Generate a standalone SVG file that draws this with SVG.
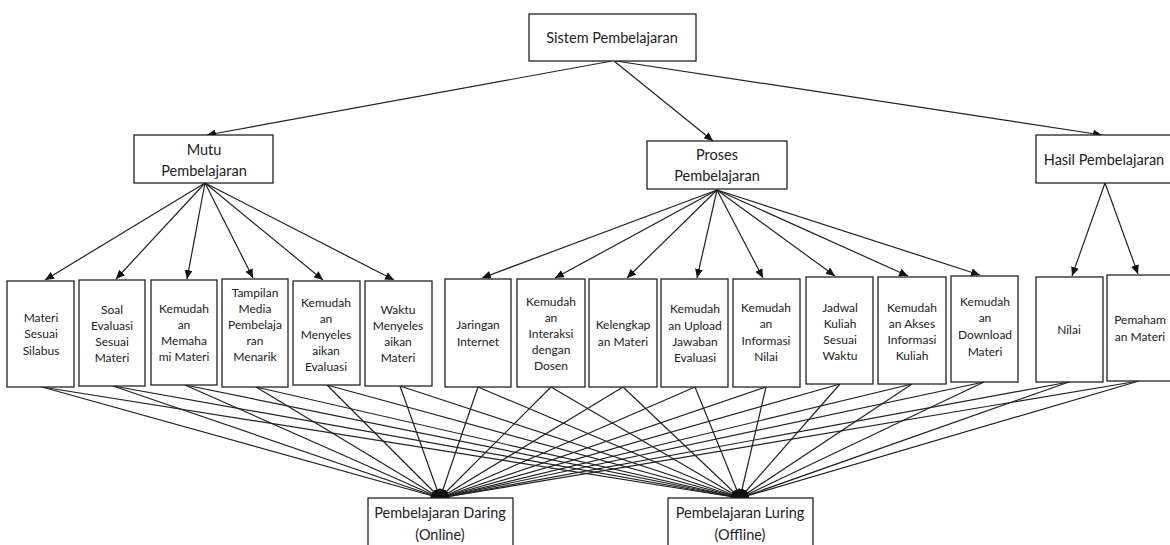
<svg xmlns="http://www.w3.org/2000/svg" width="1170" height="545" viewBox="0 0 1170 545">
<style>
.b{fill:#fff;stroke:#222;stroke-width:1.3}
.t{font-family:"Lato","Carlito","Liberation Sans",sans-serif;font-size:12px;fill:#222;text-anchor:middle}
.h{font-family:"Lato","Carlito","Liberation Sans",sans-serif;font-size:14.5px;fill:#222;text-anchor:middle}
.c line{stroke:#222;stroke-width:1.2}
.a{marker-end:url(#ar)}
</style>
<defs>
<marker id="ar" markerUnits="userSpaceOnUse" markerWidth="9" markerHeight="8" refX="9" refY="4" orient="auto"><path d="M0,0 L9,4 L0,8 z" fill="#111"/></marker>
</defs>
<rect width="1170" height="545" fill="#fff"/>
<g class="c">
<line class="a" x1="612" y1="61" x2="207" y2="135"/>
<line class="a" x1="614" y1="61" x2="713" y2="141"/>
<line class="a" x1="616" y1="61" x2="1102" y2="135"/>
<line class="a" x1="205" y1="183" x2="45" y2="280"/>
<line class="a" x1="205" y1="183" x2="116" y2="279"/>
<line class="a" x1="205" y1="183" x2="187" y2="279"/>
<line class="a" x1="205" y1="183" x2="253" y2="278"/>
<line class="a" x1="205" y1="183" x2="323" y2="280"/>
<line class="a" x1="205" y1="183" x2="394" y2="280"/>
<line class="a" x1="717" y1="190" x2="482" y2="278"/>
<line class="a" x1="717" y1="190" x2="555" y2="278"/>
<line class="a" x1="717" y1="190" x2="627" y2="278"/>
<line class="a" x1="717" y1="190" x2="697" y2="278"/>
<line class="a" x1="717" y1="190" x2="763" y2="278"/>
<line class="a" x1="717" y1="190" x2="835" y2="276"/>
<line class="a" x1="717" y1="190" x2="908" y2="276"/>
<line class="a" x1="717" y1="190" x2="980" y2="275"/>
<line class="a" x1="1105" y1="183" x2="1072" y2="276"/>
<line class="a" x1="1105" y1="183" x2="1138" y2="274"/>
<line class="a" x1="42" y1="387" x2="440" y2="498"/><line class="a" x1="42" y1="387" x2="740" y2="498"/>
<line class="a" x1="113" y1="386" x2="440" y2="498"/><line class="a" x1="113" y1="386" x2="740" y2="498"/>
<line class="a" x1="185" y1="385" x2="440" y2="498"/><line class="a" x1="185" y1="385" x2="740" y2="498"/>
<line class="a" x1="256" y1="387" x2="440" y2="498"/><line class="a" x1="256" y1="387" x2="740" y2="498"/>
<line class="a" x1="327" y1="385" x2="440" y2="498"/><line class="a" x1="327" y1="385" x2="740" y2="498"/>
<line class="a" x1="400" y1="386" x2="440" y2="498"/><line class="a" x1="400" y1="386" x2="740" y2="498"/>
<line class="a" x1="478" y1="387" x2="440" y2="498"/><line class="a" x1="478" y1="387" x2="740" y2="498"/>
<line class="a" x1="551" y1="387" x2="440" y2="498"/><line class="a" x1="551" y1="387" x2="740" y2="498"/>
<line class="a" x1="623" y1="387" x2="440" y2="498"/><line class="a" x1="623" y1="387" x2="740" y2="498"/>
<line class="a" x1="695" y1="387" x2="440" y2="498"/><line class="a" x1="695" y1="387" x2="740" y2="498"/>
<line class="a" x1="766" y1="387" x2="440" y2="498"/><line class="a" x1="766" y1="387" x2="740" y2="498"/>
<line class="a" x1="840" y1="384" x2="440" y2="498"/><line class="a" x1="840" y1="384" x2="740" y2="498"/>
<line class="a" x1="912" y1="384" x2="440" y2="498"/><line class="a" x1="912" y1="384" x2="740" y2="498"/>
<line class="a" x1="984" y1="382" x2="440" y2="498"/><line class="a" x1="984" y1="382" x2="740" y2="498"/>
<line class="a" x1="1069" y1="382" x2="440" y2="498"/><line class="a" x1="1069" y1="382" x2="740" y2="498"/>
<line class="a" x1="1139" y1="381" x2="440" y2="498"/><line class="a" x1="1139" y1="381" x2="740" y2="498"/>
</g>
<g id="n-sistem"><rect class="b" x="529" y="14" width="167" height="47"/><text class="h" x="612" y="43">Sistem Pembelajaran</text></g>
<g id="n-mutu"><rect class="b" x="134" y="135" width="139" height="48"/><text class="h" x="204" y="155">Mutu</text><text class="h" x="204" y="176">Pembelajaran</text></g>
<g id="n-proses"><rect class="b" x="647" y="141" width="140" height="48"/><text class="h" x="717" y="160">Proses</text><text class="h" x="717" y="181">Pembelajaran</text></g>
<g id="n-hasil"><rect class="b" x="1036" y="135" width="140" height="48"/><text class="h" x="1104" y="165">Hasil Pembelajaran</text></g>
<g id="n1"><rect class="b" x="7" y="281" width="67" height="106"/><text class="t" x="41" y="322">Materi</text><text class="t" x="41" y="338">Sesuai</text><text class="t" x="41" y="355">Silabus</text></g>
<g id="n2"><rect class="b" x="79" y="280" width="66" height="106"/><text class="t" x="112" y="314">Soal</text><text class="t" x="112" y="330">Evaluasi</text><text class="t" x="112" y="346">Sesuai</text><text class="t" x="112" y="362">Materi</text></g>
<g id="n3"><rect class="b" x="151" y="280" width="66" height="105"/><text class="t" x="184" y="313">Kemudah</text><text class="t" x="184" y="329">an</text><text class="t" x="184" y="345">Memaha</text><text class="t" x="184" y="361">mi Materi</text></g>
<g id="n4"><rect class="b" x="222" y="279" width="66" height="108"/><text class="t" x="255" y="297">Tampilan</text><text class="t" x="255" y="313">Media</text><text class="t" x="255" y="329">Pembelaja</text><text class="t" x="255" y="345">ran</text><text class="t" x="255" y="361">Menarik</text></g>
<g id="n5"><rect class="b" x="293" y="281" width="67" height="104"/><text class="t" x="326" y="307">Kemudah</text><text class="t" x="326" y="323">an</text><text class="t" x="326" y="339">Menyeles</text><text class="t" x="326" y="355">aikan</text><text class="t" x="326" y="371">Evaluasi</text></g>
<g id="n6"><rect class="b" x="365" y="281" width="67" height="105"/><text class="t" x="398" y="314">Waktu</text><text class="t" x="398" y="330">Menyeles</text><text class="t" x="398" y="346">aikan</text><text class="t" x="398" y="362">Materi</text></g>
<g id="n7"><rect class="b" x="445" y="279" width="66" height="108"/><text class="t" x="478" y="329">Jaringan</text><text class="t" x="478" y="346">Internet</text></g>
<g id="n8"><rect class="b" x="517" y="279" width="68" height="108"/><text class="t" x="551" y="306">Kemudah</text><text class="t" x="551" y="322">an</text><text class="t" x="551" y="338">Interaksi</text><text class="t" x="551" y="354">dengan</text><text class="t" x="551" y="370">Dosen</text></g>
<g id="n9"><rect class="b" x="589" y="279" width="68" height="108"/><text class="t" x="623" y="329">Kelengkap</text><text class="t" x="623" y="346">an Materi</text></g>
<g id="n10"><rect class="b" x="661" y="279" width="67" height="108"/><text class="t" x="695" y="313">Kemudah</text><text class="t" x="695" y="330">an Upload</text><text class="t" x="695" y="346">Jawaban</text><text class="t" x="695" y="362">Evaluasi</text></g>
<g id="n11"><rect class="b" x="733" y="279" width="67" height="108"/><text class="t" x="766" y="312">Kemudah</text><text class="t" x="766" y="328">an</text><text class="t" x="766" y="345">Informasi</text><text class="t" x="766" y="361">Nilai</text></g>
<g id="n12"><rect class="b" x="806" y="277" width="67" height="107"/><text class="t" x="840" y="312">Jadwal</text><text class="t" x="840" y="328">Kuliah</text><text class="t" x="840" y="344">Sesuai</text><text class="t" x="840" y="360">Waktu</text></g>
<g id="n13"><rect class="b" x="878" y="277" width="68" height="107"/><text class="t" x="912" y="312">Kemudah</text><text class="t" x="912" y="328">an Akses</text><text class="t" x="912" y="344">Informasi</text><text class="t" x="912" y="360">Kuliah</text></g>
<g id="n14"><rect class="b" x="951" y="276" width="67" height="106"/><text class="t" x="985" y="306">Kemudah</text><text class="t" x="985" y="322">an</text><text class="t" x="985" y="339">Download</text><text class="t" x="985" y="356">Materi</text></g>
<g id="n15"><rect class="b" x="1036" y="277" width="67" height="105"/><text class="t" x="1069" y="334">Nilai</text></g>
<g id="n16"><rect class="b" x="1107" y="275" width="66" height="106"/><text class="t" x="1140" y="324">Pemaham</text><text class="t" x="1140" y="341">an Materi</text></g>
<g id="n-daring"><rect class="b" x="368" y="498" width="145" height="60"/><text class="h" x="440" y="518">Pembelajaran Daring</text><text class="h" x="440" y="540">(Online)</text></g>
<g id="n-luring"><rect class="b" x="668" y="498" width="145" height="60"/><text class="h" x="740" y="518">Pembelajaran Luring</text><text class="h" x="740" y="540">(Offline)</text></g>
</svg>
